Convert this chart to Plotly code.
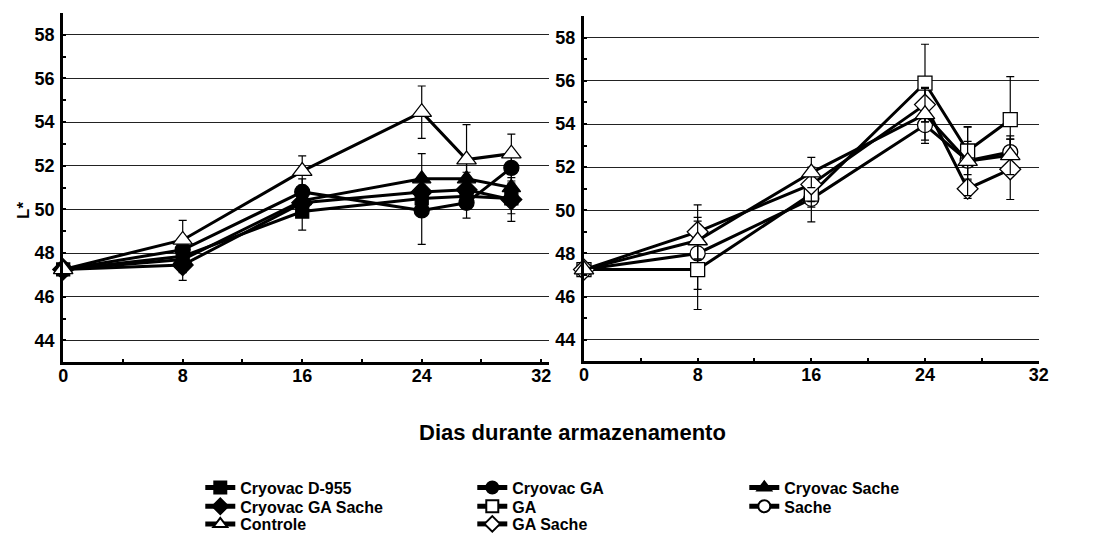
import plotly.graph_objects as go

# Storage days
days = [0, 8, 16, 24, 27, 30]

# L* means and standard deviations, left panel (Cryovac packages + control)
cryovac_d955 = [47.25, 47.85, 49.9, 50.5, 50.6, 50.5]
cryovac_d955_sd = [0, 0.7, 0.85, 0.6, 0.6, 0.7]
cryovac_ga = [47.25, 48.15, 50.8, 49.95, 50.3, 51.9]
cryovac_ga_sd = [0, 0.5, 0.6, 1.55, 0.7, 0.6]
cryovac_sache = [47.25, 47.7, 50.4, 51.4, 51.4, 51.0]
cryovac_sache_sd = [0, 0.6, 0.7, 1.15, 0.8, 0.7]
cryovac_ga_sache = [47.25, 47.45, 50.3, 50.8, 50.9, 50.45]
cryovac_ga_sache_sd = [0, 0.7, 0.6, 0.6, 0.8, 1.0]
controle = [47.25, 48.6, 51.75, 54.45, 52.28, 52.55]
controle_sd = [0, 0.9, 0.7, 1.2, 1.6, 0.9]

# Right panel (GA, Sache, GA Sache + control)
ga = [47.25, 47.25, 50.75, 55.9, 52.75, 54.2]
ga_sd = [0, 1.85, 0.6, 1.8, 1.1, 2.0]
sache = [47.25, 48.0, 50.53, 53.95, 52.3, 52.7]
sache_sd = [0, 1.67, 1.07, 0.85, 0.9, 0.6]
ga_sache = [47.25, 49.0, 51.2, 54.9, 51.0, 51.9]
ga_sache_sd = [0, 1.25, 0.8, 0.8, 0.45, 1.4]

x_ticks = [0, 8, 16, 24, 32]
y_ticks = [44, 46, 48, 50, 52, 54, 56, 58]

W, H = 1097, 541
FONT = "Liberation Sans, Arial, sans-serif"


def px_x(p):
    return p / W


def px_y(p):
    return 1 - p / H


def series(name, y, sd, symbol, size, filled, xa, ya, legend, rank, showlegend=True):
    return go.Scatter(
        x=days, y=y, name=name, mode="lines+markers",
        xaxis=xa, yaxis=ya, legend=legend, legendrank=rank,
        showlegend=showlegend, legendgroup=name, cliponaxis=False,
        line=dict(color="black", width=3),
        marker=dict(symbol=symbol, size=size,
                    color="black" if filled else "white",
                    line=dict(color="black", width=1.3)),
        error_y=dict(type="data", array=sd, color="black",
                     thickness=1.2, width=4),
    )


fig = go.Figure()

# Left panel
fig.add_trace(series("Cryovac GA Sache", cryovac_ga_sache, cryovac_ga_sache_sd,
                     "diamond", 16, True, "x", "y", "legend2", 1))
fig.add_trace(series("Cryovac D-955", cryovac_d955, cryovac_d955_sd,
                     "square", 13, True, "x", "y", "legend", 1))
fig.add_trace(series("Cryovac Sache", cryovac_sache, cryovac_sache_sd,
                     "triangle-up", 16, True, "x", "y", "legend", 3))
fig.add_trace(series("Cryovac GA", cryovac_ga, cryovac_ga_sd,
                     "circle", 15, True, "x", "y", "legend", 2))
fig.add_trace(series("Controle", controle, controle_sd,
                     "triangle-up", 17, False, "x", "y", "legend3", 1))

# Right panel
fig.add_trace(series("Sache", sache, sache_sd,
                     "circle", 15, False, "x2", "y2", "legend2", 3))
fig.add_trace(series("GA", ga, ga_sd,
                     "square", 14, False, "x2", "y2", "legend2", 2))
fig.add_trace(series("GA Sache", ga_sache, ga_sache_sd,
                     "diamond", 16, False, "x2", "y2", "legend3", 2))
fig.add_trace(series("Controle", controle, controle_sd,
                     "triangle-up", 17, False, "x2", "y2", "legend3", 1,
                     showlegend=False))

tick_font = dict(family=FONT, size=18, color="black", weight="bold")

xcommon = dict(
    tickvals=x_ticks, showgrid=False, zeroline=False,
    showline=True, linecolor="black", linewidth=3,
    ticks="inside", ticklen=3, tickwidth=2, tickcolor="black",
    minor=dict(tickmode="linear", tick0=0, dtick=4, ticks="inside",
               ticklen=3, tickwidth=2, tickcolor="black"),
    tickfont=tick_font, ticklabelstandoff=-5,
)
ycommon = dict(
    range=[43, 59], tickvals=y_ticks, showgrid=True,
    gridcolor="#222", gridwidth=1, zeroline=False,
    showline=True, linecolor="black", linewidth=3,
    ticks="inside", ticklen=3, tickwidth=2, tickcolor="black",
    minor=dict(tickmode="linear", tick0=43, dtick=1, ticks="inside",
               ticklen=3, tickwidth=2, tickcolor="black", showgrid=False),
    tickfont=tick_font, ticklabelstandoff=2,
)

fig.update_layout(
    width=W, height=H,
    margin=dict(l=0, r=0, t=0, b=0),
    paper_bgcolor="white", plot_bgcolor="white",
    font=dict(family=FONT, color="black"),
    xaxis=dict(domain=[px_x(59), px_x(552)], range=[0, 32.55], anchor="y", **xcommon),
    yaxis=dict(domain=[px_y(367), px_y(13)], anchor="x", **ycommon),
    xaxis2=dict(domain=[px_x(587), px_x(1048)], range=[0, 32], anchor="y2", **xcommon),
    yaxis2=dict(domain=[px_y(366), px_y(16.4)], anchor="x2", **ycommon),
    annotations=[
        dict(text="L*", x=px_x(19), y=px_y(213), xref="paper", yref="paper",
             xanchor="center", yanchor="middle",
             textangle=-90, showarrow=False,
             font=dict(family=FONT, size=17, color="black", weight="bold")),
        dict(text="Dias durante armazenamento", x=px_x(575), y=px_y(438),
             xref="paper", yref="paper", xanchor="center", yanchor="middle",
             showarrow=False,
             font=dict(family=FONT, size=22, color="black", weight="bold")),
    ],
)

# Three single-row legends laid out as a 3-column grid
legend_common = dict(
    orientation="h", xanchor="left", yanchor="middle",
    bgcolor="rgba(0,0,0,0)", borderwidth=0,
    font=dict(family=FONT, size=16, color="black", weight="bold"),
    itemsizing="constant", itemclick=False,
    entrywidth=227, entrywidthmode="pixels", traceorder="normal",
)
fig.update_layout(
    legend=dict(x=px_x(198), y=px_y(494), **legend_common),
    legend2=dict(x=px_x(198), y=px_y(513), **legend_common),
    legend3=dict(x=px_x(198), y=px_y(531), **legend_common),
)

fig.write_html("out.html")
